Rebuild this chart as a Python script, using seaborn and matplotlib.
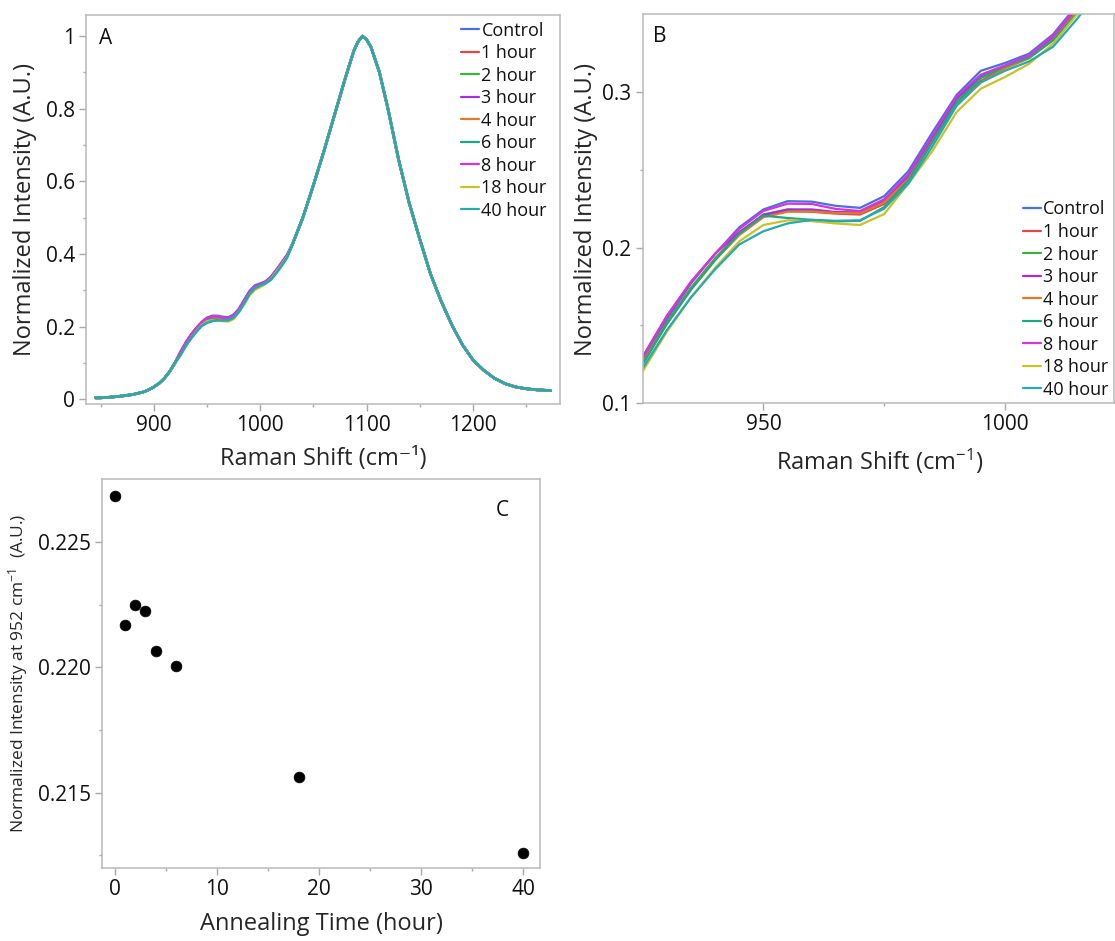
import matplotlib
matplotlib.use("Agg")
import matplotlib.pyplot as plt
import pandas as pd
import seaborn as sns

# ---------------- data ----------------
series = ["Control", "1 hour", "2 hour", "3 hour", "4 hour", "6 hour", "8 hour", "18 hour", "40 hour"]
colors = ["#4a6fe3", "#e0474c", "#3cb043", "#a22ee0", "#e07a2a", "#1fa682", "#d934d9", "#c9c12a", "#25aab0"]

# low-shift tail (shared by all spectra)
shift_left = [845, 850, 860, 870, 880, 890, 895, 900, 905, 910, 915, 920]
int_left = [0.004, 0.004, 0.006, 0.009, 0.013, 0.020, 0.026, 0.034, 0.044, 0.058, 0.077, 0.101]

# 925-1025 region (where the spectra differ)
shift_mid = [925, 930, 935, 940, 945, 950, 955, 960, 965, 970, 975,
             980, 985, 990, 995, 1000, 1005, 1010, 1015, 1020, 1025]
int_control = [0.128, 0.154, 0.177, 0.196, 0.213, 0.2245, 0.2298, 0.2295, 0.2268, 0.2255, 0.233,
               0.249, 0.274, 0.298, 0.3135, 0.3185, 0.3245, 0.337, 0.356, 0.376, 0.397]
int_1h = [0.127, 0.152, 0.174, 0.193, 0.209, 0.2205, 0.2235, 0.223, 0.2218, 0.2212, 0.228,
          0.244, 0.268, 0.293, 0.307, 0.3155, 0.322, 0.334, 0.353, 0.373, 0.394]
int_2h = [0.1265, 0.152, 0.174, 0.193, 0.209, 0.2213, 0.2243, 0.2238, 0.2225, 0.2225, 0.229,
          0.245, 0.270, 0.295, 0.309, 0.316, 0.3225, 0.3345, 0.353, 0.373, 0.394]
int_3h = [0.130, 0.156, 0.178, 0.196, 0.210, 0.221, 0.2245, 0.2245, 0.2228, 0.2225, 0.230,
          0.246, 0.271, 0.296, 0.310, 0.3165, 0.323, 0.335, 0.354, 0.374, 0.395]
int_4h = [0.126, 0.151, 0.173, 0.192, 0.208, 0.2195, 0.223, 0.2232, 0.2222, 0.222, 0.229,
          0.244, 0.268, 0.292, 0.306, 0.315, 0.3215, 0.3335, 0.352, 0.372, 0.393]
int_6h = [0.125, 0.151, 0.173, 0.192, 0.209, 0.2205, 0.219, 0.2178, 0.2168, 0.2172, 0.226,
          0.243, 0.268, 0.293, 0.309, 0.3165, 0.322, 0.333, 0.351, 0.371, 0.392]
int_8h = [0.1295, 0.156, 0.178, 0.196, 0.212, 0.2235, 0.2282, 0.228, 0.2248, 0.2235, 0.231,
          0.247, 0.272, 0.297, 0.311, 0.317, 0.3235, 0.336, 0.355, 0.375, 0.396]
int_18h = [0.1205, 0.146, 0.168, 0.187, 0.204, 0.2145, 0.2175, 0.217, 0.2155, 0.2145, 0.2215,
           0.241, 0.262, 0.287, 0.302, 0.3095, 0.318, 0.331, 0.350, 0.370, 0.391]
int_40h = [0.1225, 0.147, 0.168, 0.186, 0.202, 0.2105, 0.2155, 0.2178, 0.2172, 0.2175, 0.225,
           0.241, 0.265, 0.291, 0.306, 0.3135, 0.3195, 0.329, 0.347, 0.367, 0.389]

# high-shift part (shared by all spectra)
shift_right = [1030, 1040, 1050, 1060, 1070, 1080, 1088, 1092, 1096, 1100, 1104, 1112, 1120,
               1130, 1140, 1150, 1160, 1170, 1180, 1190, 1200, 1210, 1220, 1230, 1240,
               1250, 1260, 1273]
int_right = [0.425, 0.50, 0.59, 0.685, 0.785, 0.885, 0.96, 0.985, 1.0, 0.99, 0.97, 0.90, 0.80,
             0.66, 0.54, 0.44, 0.345, 0.27, 0.205, 0.15, 0.108, 0.08, 0.058, 0.043, 0.034,
             0.029, 0.026, 0.024]

mid_values = [int_control, int_1h, int_2h, int_3h, int_4h, int_6h, int_8h, int_18h, int_40h]

# panel C
anneal_time = [0, 1, 2, 3, 4, 6, 18, 40]
intensity_952 = [0.22684, 0.22167, 0.22248, 0.22223, 0.22065, 0.22006, 0.21561, 0.2126]

rows = []
for name, mid in zip(series, mid_values):
    xs = shift_left + shift_mid + shift_right
    ys = int_left + mid + int_right
    for x, y in zip(xs, ys):
        rows.append({"shift": x, "intensity": y, "sample": name})
df = pd.DataFrame(rows)
dfc = pd.DataFrame({"time": anneal_time, "val": intensity_952})

# ---------------- style ----------------
sns.set_style("ticks")
plt.rcParams["font.family"] = ["Open Sans", "DejaVu Sans"]
plt.rcParams["mathtext.fontset"] = "custom"
plt.rcParams["mathtext.rm"] = "Open Sans"
plt.rcParams["mathtext.it"] = "Open Sans"
plt.rcParams["text.color"] = "#111111"

W, H = 1115, 941
fig = plt.figure(figsize=(W / 100, H / 100), dpi=100)


def frac_box(l, t, r, b):
    return [l / W, 1 - b / H, (r - l) / W, (b - t) / H]


axA = fig.add_axes(frac_box(86, 15, 560, 404.3))
axB = fig.add_axes(frac_box(642.7, 14, 1114, 403.3))
axC = fig.add_axes(frac_box(102, 479.3, 540, 867.7))

palette = dict(zip(series, colors))
sns.lineplot(data=df, x="shift", y="intensity", hue="sample", hue_order=series,
             palette=palette, estimator=None, linewidth=1.9, ax=axA)
sns.lineplot(data=df, x="shift", y="intensity", hue="sample", hue_order=series,
             palette=palette, estimator=None, linewidth=1.6, ax=axB)

sns.scatterplot(data=dfc, x="time", y="val", color="black", s=60, edgecolor="black",
                linewidth=0.5, ax=axC, zorder=3)

spine_col = "#b9b9b9"
tick_col = "#a8a8a8"
for ax in (axA, axB, axC):
    for sp in ax.spines.values():
        sp.set_visible(True)
        sp.set_color(spine_col)
        sp.set_linewidth(1.1)
    ax.tick_params(which="major", direction="out", length=5, width=1, color=tick_col,
                   labelsize=15, labelcolor="#111111", pad=3)
    ax.tick_params(which="minor", direction="out", length=2.5, width=1, color=tick_col)

# panel A
axA.set_xlim(836.2, 1281.7)
axA.set_ylim(-0.0138, 1.058)
axA.set_xticks([900, 1000, 1100, 1200])
axA.set_xticks([850, 950, 1050, 1150, 1250], minor=True)
axA.set_yticks([0, 0.2, 0.4, 0.6, 0.8, 1.0])
axA.set_yticklabels(["0", "0.2", "0.4", "0.6", "0.8", "1"])
axA.set_yticks([0.1, 0.3, 0.5, 0.7, 0.9], minor=True)
axA.set_xlabel("Raman Shift (cm⁻¹)", fontsize=17)
axA.set_ylabel("Normalized Intensity (A.U.)", fontsize=17)
axA.xaxis.set_label_coords(323 / W, 1 - 447 / H, transform=fig.transFigure)
axA.yaxis.set_label_coords(37 / W, 1 - 209.5 / H, transform=fig.transFigure)

# panel B
axB.set_xlim(925, 1022.6)
axB.set_ylim(0.1, 0.35)
axB.set_xticks([950, 1000])
axB.set_xticks([975], minor=True)
axB.set_yticks([0.1, 0.2, 0.3])
axB.set_yticklabels(["0.1", "0.2", "0.3"])
axB.set_yticks([0.15, 0.25], minor=True)
axB.set_xlabel("Raman Shift (cm$^{-1}$)", fontsize=17)
axB.set_ylabel("Normalized Intensity (A.U.)", fontsize=17)
axB.xaxis.set_label_coords(880 / W, 1 - 447 / H, transform=fig.transFigure)
axB.yaxis.set_label_coords(598 / W, 1 - 209 / H, transform=fig.transFigure)

# panel C
axC.set_xlim(-1.25, 41.64)
axC.set_ylim(0.21201, 0.22749)
axC.set_xticks([0, 10, 20, 30, 40])
axC.set_xticks([5, 15, 25, 35], minor=True)
axC.set_yticks([0.215, 0.220, 0.225])
axC.set_yticklabels(["0.215", "0.220", "0.225"])
axC.set_yticks([0.2125, 0.2175, 0.2225], minor=True)
axC.set_xlabel("Annealing Time (hour)", fontsize=17)
axC.set_ylabel("Normalized Intensity at 952 cm$^{-1}$  (A.U.)", fontsize=12.5)
axC.xaxis.set_label_coords(321 / W, 1 - 912 / H, transform=fig.transFigure)
axC.yaxis.set_label_coords(30 / W, 1 - 673 / H, transform=fig.transFigure)

# legends
for ax, (lx, ty) in ((axA, (460.7, 21.5)), (axB, (1022.5, 200.5))):
    handles, labels = ax.get_legend_handles_labels()
    leg = ax.legend(handles, labels, loc="upper left", bbox_to_anchor=(lx / W, 1 - ty / H),
                    bbox_transform=fig.transFigure, frameon=False, fontsize=13,
                    handlelength=1.0, handletextpad=0.15, labelspacing=0.25, borderpad=0,
                    borderaxespad=0)
    for ln in leg.get_lines():
        ln.set_linewidth(1.6)

# panel letters
fig.text(106 / W, 1 - 39 / H, "A", fontsize=15, ha="center", va="center")
fig.text(660 / W, 1 - 37 / H, "B", fontsize=15, ha="center", va="center")
fig.text(502 / W, 1 - 510 / H, "C", fontsize=15, ha="center", va="center")

fig.savefig("out.png", dpi=100)
